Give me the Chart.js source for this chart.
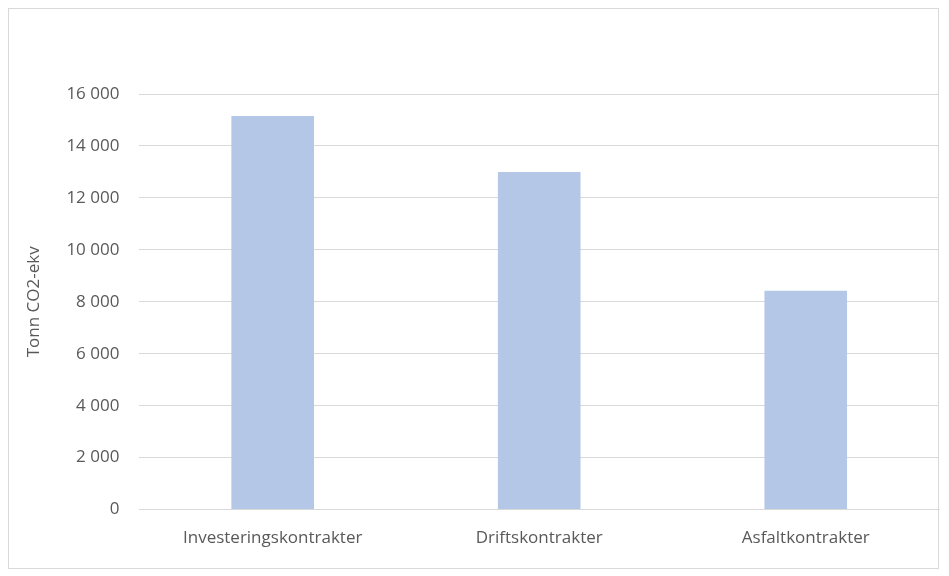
<!DOCTYPE html>
<html>
<head>
<meta charset="utf-8">
<script src="https://cdn.jsdelivr.net/npm/chart.js@4"></script>
<style>
  html, body { margin: 0; padding: 0; background: #fff; }
  #wrap { position: relative; width: 949px; height: 576px; }
  #frame { position: absolute; left: 8px; top: 8px; width: 931px; height: 561px; border: 1px solid #d9d9d9; box-sizing: border-box; }
  canvas { position: absolute; left: 0; top: 0; }
</style>
</head>
<body>
<div id="wrap">
  <div id="frame"></div>
  <canvas id="chart" width="949" height="576"></canvas>
</div>
<script>
// ── Data ──────────────────────────────────────────────────────────
const categories = ['Investeringskontrakter', 'Driftskontrakter', 'Asfaltkontrakter'];
const emissions = [15150, 13000, 8430];
const yTitle = 'Tonn CO2-ekv';

const textColor = '#595959';
const gridColor = '#d9d9d9';
const font = { family: 'Open Sans', size: 17 };

const fmt = v => String(v).replace(/\B(?=(\d{3})+(?!\d))/g, ' ');

new Chart(document.getElementById('chart'), {
    type: 'bar',
    data: {
        labels: categories,
        datasets: [{
            data: emissions,
            backgroundColor: '#b4c7e7',
            borderWidth: 0,
            barPercentage: 0.31,
            categoryPercentage: 1,
        }]
    },
    options: {
        responsive: false,
        animation: false,
        layout: { padding: { left: 24, right: 10, top: 94, bottom: 10 } },
        plugins: { legend: { display: false }, tooltip: { enabled: false } },
        scales: {
            x: {
                grid: { display: false, drawTicks: false },
                border: { color: gridColor, width: 1 },
                ticks: { color: textColor, font, padding: 18, maxRotation: 0 }
            },
            y: {
                min: 0, max: 16000,
                grid: { color: gridColor, drawTicks: false },
                border: { display: false },
                ticks: { stepSize: 2000, color: textColor, font, padding: 20, callback: v => fmt(v) },
                title: { display: true, text: yTitle, color: textColor, font: { family: 'Open Sans', size: 17 }, padding: { top: 0, bottom: 2 } }
            }
        }
    }
});
</script>
</body>
</html>
